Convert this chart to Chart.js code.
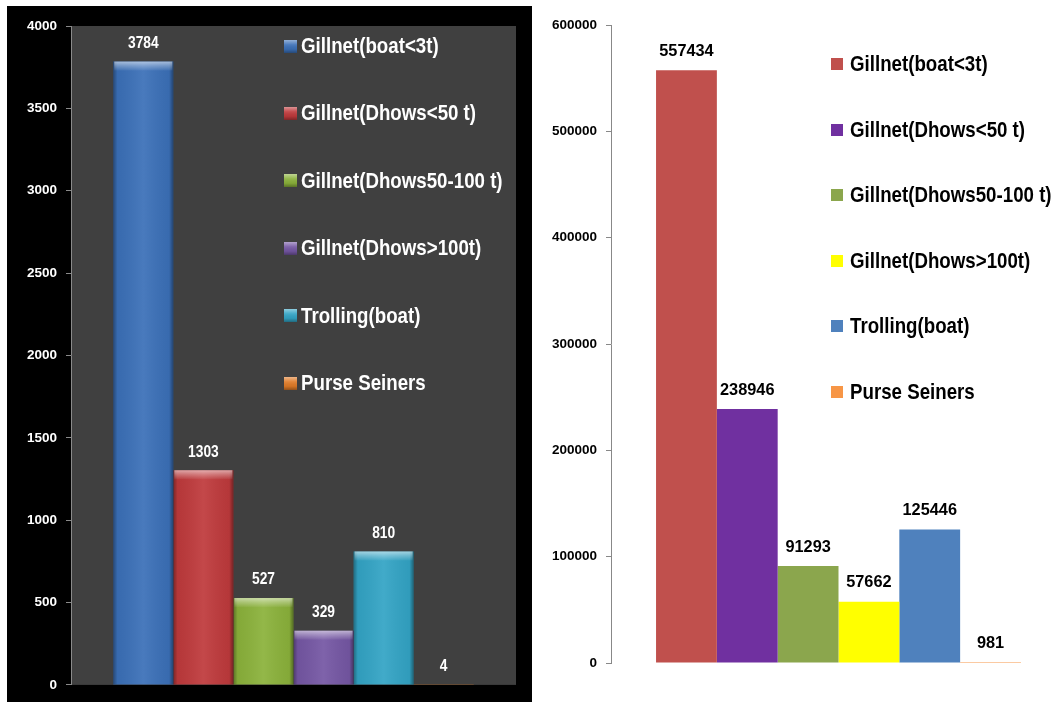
<!DOCTYPE html>
<html>
<head>
<meta charset="utf-8">
<script src="https://cdn.jsdelivr.net/npm/chart.js@4.4.1/dist/chart.umd.min.js"></script>
<style>
  html, body { margin: 0; padding: 0; background: #fff; overflow: hidden; }
  body { width: 1055px; height: 702px; position: relative; }
  #countPanel { position: absolute; left: 7px; top: 6px; width: 525px; height: 696px; background: #000; }
  #catchPanel { position: absolute; left: 532px; top: 0; width: 546px; height: 702px; background: #fff; }
  canvas { display: block; }
</style>
</head>
<body>
<div id="countPanel"><canvas id="countChart" width="525" height="696"></canvas></div>
<div id="catchPanel"><canvas id="catchChart" width="546" height="702"></canvas></div>
<script>
// gear types, same order in both charts
const gearTypes = ['Gillnet(boat<3t)', 'Gillnet(Dhows<50 t)', 'Gillnet(Dhows50-100 t)', 'Gillnet(Dhows>100t)', 'Trolling(boat)', 'Purse Seiners'];

// left: number of vessels
const vesselCounts = [3784, 1303, 527, 329, 810, 4];
const countTicks = [0, 500, 1000, 1500, 2000, 2500, 3000, 3500, 4000];
const countColors = ['#3b70b8', '#bf3a3c', '#8bb23b', '#7557a4', '#33a4c5', '#e07b27'];

// right: catch
const catchValues = [557434, 238946, 91293, 57662, 125446, 981];
const catchTicks = [0, 100000, 200000, 300000, 400000, 500000, 600000];
const catchColors = ['#c0504d', '#7030a0', '#8ba64d', '#ffff00', '#4f81bd', '#f79646'];

const SANS = "'Liberation Sans', Arial, sans-serif";

// draws text squeezed horizontally (no narrow font installed)
function squeezedText(ctx, text, x, y, sx) {
  ctx.save();
  ctx.translate(x, y);
  ctx.scale(sx, 1);
  ctx.fillText(text, 0, 0);
  ctx.restore();
}

const plotBackground = {
  id: 'plotBackground',
  beforeDraw(chart, args, opts) {
    if (!opts.color) return;
    const a = chart.chartArea;
    const ctx = chart.ctx;
    ctx.save();
    ctx.fillStyle = opts.color;
    ctx.fillRect(a.left, a.top, a.right - a.left, a.bottom - a.top);
    ctx.restore();
  }
};

// glossy 3d look on top of the flat bars
const bevel = {
  id: 'bevel',
  afterDatasetsDraw(chart, args, opts) {
    if (!opts.enabled) return;
    const ctx = chart.ctx;
    ctx.save();
    chart.data.datasets.forEach((ds, i) => {
      chart.getDatasetMeta(i).data.forEach(bar => {
        const {x, y, base, width} = bar.getProps(['x', 'y', 'base', 'width'], true);
        const l = x - width / 2, h = base - y;
        if (h < 1) return;
        let g = ctx.createLinearGradient(l, 0, l + width, 0);
        g.addColorStop(0, 'rgba(0,0,0,0.35)');
        g.addColorStop(0.07, 'rgba(0,0,0,0.05)');
        g.addColorStop(0.5, 'rgba(255,255,255,0.07)');
        g.addColorStop(0.93, 'rgba(0,0,0,0.05)');
        g.addColorStop(1, 'rgba(0,0,0,0.4)');
        ctx.fillStyle = g;
        ctx.fillRect(l, y, width, h);
        const cap = Math.min(9, h);
        g = ctx.createLinearGradient(0, y, 0, y + cap);
        g.addColorStop(0, 'rgba(255,255,255,0.55)');
        g.addColorStop(0.45, 'rgba(255,255,255,0.3)');
        g.addColorStop(1, 'rgba(255,255,255,0.04)');
        ctx.fillStyle = g;
        ctx.fillRect(l + 1, y, width - 2, cap);
      });
    });
    ctx.restore();
  }
};

const valueLabels = {
  id: 'valueLabels',
  afterDatasetsDraw(chart, args, opts) {
    const ctx = chart.ctx;
    ctx.save();
    ctx.font = opts.font;
    ctx.fillStyle = opts.color;
    ctx.textAlign = 'center';
    ctx.textBaseline = 'middle';
    chart.data.datasets.forEach((ds, i) => {
      chart.getDatasetMeta(i).data.forEach((bar, j) => {
        squeezedText(ctx, String(ds.data[j]), bar.x, bar.y - opts.offset, opts.squeeze);
      });
    });
    ctx.restore();
  }
};

// legend sits inside the plot, to the right of the bars
const sideLegend = {
  id: 'sideLegend',
  afterDraw(chart, args, opts) {
    const ctx = chart.ctx;
    const s = opts.box;
    ctx.save();
    ctx.font = opts.font;
    ctx.textAlign = 'left';
    ctx.textBaseline = 'middle';
    chart.data.datasets.forEach((ds, i) => {
      const cy = opts.top + i * opts.spacing;
      const bx = opts.left, by = Math.round(cy - s / 2);
      ctx.fillStyle = ds.backgroundColor;
      ctx.fillRect(bx, by, s, s);
      if (opts.bevel) {
        const g = ctx.createLinearGradient(0, by, 0, by + s);
        g.addColorStop(0, 'rgba(255,255,255,0.45)');
        g.addColorStop(0.35, 'rgba(255,255,255,0.1)');
        g.addColorStop(0.7, 'rgba(0,0,0,0.05)');
        g.addColorStop(1, 'rgba(0,0,0,0.35)');
        ctx.fillStyle = g;
        ctx.fillRect(bx, by, s, s);
      }
      ctx.fillStyle = opts.color;
      squeezedText(ctx, ds.label, bx + s + opts.gap, cy + 1, opts.squeeze);
    });
    ctx.restore();
  }
};

function barChart(id, values, colors, ticks, look) {
  return new Chart(document.getElementById(id), {
    type: 'bar',
    data: {
      labels: [''],
      datasets: gearTypes.map((name, i) => ({
        label: name,
        data: [values[i]],
        backgroundColor: colors[i],
        borderWidth: 0
      }))
    },
    options: {
      responsive: false,
      animation: false,
      categoryPercentage: look.categoryPercentage,
      barPercentage: 1,
      layout: { padding: look.padding },
      plugins: {
        legend: { display: false },
        tooltip: { enabled: false },
        plotBackground: { color: look.plotColor },
        bevel: { enabled: look.bevel },
        valueLabels: look.valueLabels,
        sideLegend: look.legend
      },
      scales: {
        x: { display: false },
        y: {
          min: 0,
          max: ticks[ticks.length - 1],
          afterBuildTicks: s => { s.ticks = ticks.map(v => ({ value: v })); },
          afterFit: s => { s.width = look.axisWidth; },
          grid: { drawOnChartArea: false, drawTicks: true, tickLength: 5, color: look.axisColor },
          border: { display: true, color: look.axisColor, width: 1 },
          ticks: {
            color: look.tickColor,
            padding: 9,
            callback: v => String(v),
            font: { family: SANS, size: 13.5, weight: 'bold' }
          }
        }
      }
    },
    plugins: [plotBackground, bevel, valueLabels, sideLegend]
  });
}

barChart('countChart', vesselCounts, countColors, countTicks, {
  categoryPercentage: 0.81,
  padding: { top: 20, right: 16, bottom: 17, left: 0 },
  axisWidth: 64,
  axisColor: '#8a8a8a',
  tickColor: '#ffffff',
  plotColor: '#404040',
  bevel: true,
  valueLabels: { font: `bold 16px ${SANS}`, color: '#ffffff', offset: 18, squeeze: 0.86 },
  legend: { left: 277, top: 40, spacing: 67.4, box: 13, gap: 4, font: `bold 22px ${SANS}`, squeeze: 0.85, color: '#ffffff', bevel: true }
});

barChart('catchChart', catchValues, catchColors, catchTicks, {
  categoryPercentage: 0.802,
  padding: { top: 25, right: 12, bottom: 39, left: 0 },
  axisWidth: 79,
  axisColor: '#888888',
  tickColor: '#000000',
  plotColor: null,
  bevel: false,
  valueLabels: { font: `bold 17px ${SANS}`, color: '#000000', offset: 19, squeeze: 0.96 },
  legend: { left: 299, top: 64, spacing: 65.6, box: 12, gap: 7, font: `bold 22px ${SANS}`, squeeze: 0.85, color: '#000000', bevel: false }
});
</script>
</body>
</html>
